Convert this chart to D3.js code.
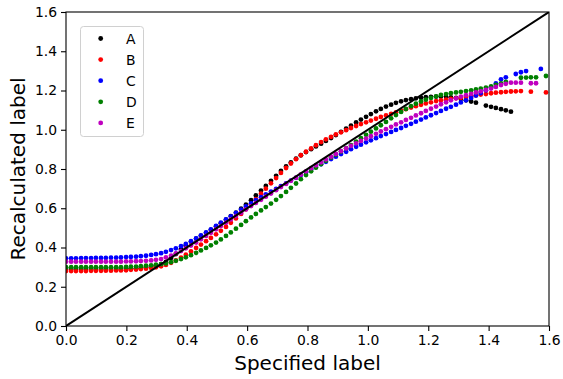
<!DOCTYPE html>
<html>
<head>
<meta charset="utf-8">
<script src="https://cdn.jsdelivr.net/npm/d3@7"></script>
<style>
  html, body { margin: 0; padding: 0; background: #fff; }
  svg { display: block; font-family: "DejaVu Sans", sans-serif; }
</style>
</head>
<body>
<div id="chart"></div>
<script>
// specified label (shared x for every series)
const xs = [
  0,0.017,0.033,0.050,0.066,0.083,0.099,0.116,0.132,0.149,
  0.166,0.182,0.199,0.215,0.232,0.248,0.265,0.282,0.298,0.315,
  0.331,0.348,0.364,0.381,0.397,0.414,0.431,0.447,0.464,0.480,
  0.497,0.513,0.530,0.546,0.563,0.580,0.596,0.613,0.629,0.646,
  0.662,0.679,0.696,0.712,0.729,0.745,0.762,0.778,0.795,0.812,
  0.828,0.845,0.861,0.878,0.894,0.911,0.928,0.944,0.961,0.977,
  0.994,1.010,1.027,1.043,1.060,1.077,1.093,1.110,1.126,1.143,
  1.159,1.176,1.192,1.209,1.226,1.242,1.259,1.275,1.292,1.308,
  1.325,1.342,1.358,1.374,1.391,1.408,1.424,1.441,1.457,1.474,
  1.490,1.507,1.524,1.540,1.557,1.573,1.590
];

// recalculated label, one array per series (null = no point)
const seriesA = [
  .290,.290,.290,.290,.290,.290,.290,.290,.290,.290,
  .290,.291,.292,.293,.294,.296,.299,.303,.308,.315,
  .326,.347,.367,.390,.411,.429,.445,.459,.475,.490,
  .507,.524,.542,.560,.578,.598,.618,.641,.665,.690,
  .714,.740,.765,.790,.813,.834,.853,.870,.886,.901,
  .915,.929,.943,.958,.973,.989,1.005,1.021,1.037,1.052,
  1.066,1.080,1.094,1.106,1.118,1.128,1.137,1.145,1.151,1.156,
  1.160,1.163,1.166,1.168,1.169,1.169,1.168,1.165,1.162,1.157,
  1.150,1.144,1.138,null,1.123,1.117,1.111,1.105,1.099,1.092,
  null,null,null,null,null,null,null
];
const seriesB = [
  .280,.280,.280,.280,.280,.281,.281,.281,.282,.282,
  .283,.283,.284,.286,.288,.290,.292,.295,.299,.304,
  .311,.322,.334,.348,.363,.380,.398,.415,.432,.449,
  .467,.485,.505,.526,.548,.571,.595,.620,.647,.674,
  .700,.727,.754,.780,.805,.828,.850,.870,.888,.905,
  .921,.937,.951,.964,.976,.987,.998,1.009,1.019,1.029,
  1.038,1.047,1.056,1.065,1.073,1.081,1.089,1.097,1.105,1.113,
  1.120,1.127,1.134,1.140,1.146,1.150,1.154,1.157,1.160,1.163,
  1.167,1.171,1.175,1.179,1.182,1.186,1.189,1.191,1.193,1.195,
  1.196,1.197,null,1.194,null,null,1.190
];
const seriesC = [
  .345,.345,.345,.346,.346,.346,.347,.347,.347,.348,
  .348,.349,.351,.352,.353,.356,.358,.362,.366,.371,
  .378,.387,.396,.407,.418,.432,.446,.462,.477,.492,
  .510,.526,.543,.559,.576,.593,.609,.625,.641,.656,
  .670,.685,.699,.713,.727,.741,.755,.769,.783,.797,
  .810,.824,.837,.851,.863,.876,.888,.901,.913,.924,
  .936,.946,.957,.968,.978,.989,.999,1.009,1.020,1.030,
  1.041,1.052,1.063,1.074,1.085,1.096,1.107,1.117,1.128,1.139,
  1.150,1.162,1.174,1.187,1.201,1.217,1.236,1.257,1.267,null,
  1.284,1.293,1.299,null,null,1.310,null
];
const seriesD = [
  .300,.300,.300,.300,.300,.300,.300,.300,.300,.300,
  .300,.300,.301,.302,.303,.305,.307,.309,.312,.315,
  .319,.325,.332,.341,.350,.361,.373,.385,.398,.411,
  .425,.441,.459,.477,.496,.515,.534,.553,.571,.589,
  .606,.624,.643,.662,.683,.704,.726,.748,.769,.788,
  .807,.825,.842,.858,.873,.889,.906,.922,.940,.957,
  .974,.990,1.007,1.023,1.040,1.058,1.075,1.091,1.106,1.120,
  1.133,1.144,1.153,1.162,1.170,1.177,1.182,1.186,1.190,1.193,
  1.197,1.201,1.205,1.210,1.215,1.221,1.228,1.236,1.244,null,
  null,1.265,1.266,1.267,1.267,null,1.274
];
const seriesE = [
  .328,.328,.328,.328,.328,.328,.328,.328,.328,.328,
  .328,.328,.329,.329,.330,.331,.332,.334,.337,.341,
  .350,.359,.370,.382,.396,.410,.425,.442,.459,.475,
  .493,.509,.526,.543,.560,.577,.594,.611,.627,.643,
  .659,.675,.692,.708,.724,.740,.756,.772,.788,.804,
  .819,.834,.849,.863,.877,.891,.905,.918,.931,.943,
  .955,.967,.979,.991,1.003,1.015,1.027,1.038,1.050,1.061,
  1.073,1.084,1.096,1.107,1.118,1.130,1.140,1.150,1.160,1.169,
  1.176,1.183,1.190,1.196,1.203,1.210,1.218,1.228,1.234,1.240,
  1.240,1.240,null,1.237,1.237,null,null
];

const seriesNames = ["A", "B", "C", "D", "E"];
const seriesColors = ["#000000", "#ff0000", "#0000ff", "#008000", "#bf00bf"];
const seriesValues = [seriesA, seriesB, seriesC, seriesD, seriesE];

const xTicks = [0, 0.2, 0.4, 0.6, 0.8, 1.0, 1.2, 1.4, 1.6];
const yTicks = [0, 0.2, 0.4, 0.6, 0.8, 1.0, 1.2, 1.4, 1.6];
const xTitle = "Specified label";
const yTitle = "Recalculated label";

// 尺寸
const width = 563;
const height = 379;
const margin = { top: 12, right: 14, bottom: 53, left: 66 };

const svg = d3.select("#chart")
  .append("svg")
  .attr("width", width)
  .attr("height", height);

const x = d3.scaleLinear()
  .domain([0, 1.6])
  .range([margin.left, width - margin.right]);

const y = d3.scaleLinear()
  .domain([0, 1.6])
  .range([height - margin.bottom, margin.top]);

// clip to the axes box
svg.append("defs").append("clipPath")
  .attr("id", "plot-clip")
  .append("rect")
  .attr("x", margin.left)
  .attr("y", margin.top)
  .attr("width", width - margin.left - margin.right)
  .attr("height", height - margin.top - margin.bottom);

const plot = svg.append("g").attr("clip-path", "url(#plot-clip)");

// 点
seriesValues.forEach((vals, k) => {
  const pts = xs.map((xv, i) => ({ x: xv, y: vals[i] })).filter(d => d.y !== null);
  plot.append("g")
    .selectAll("circle")
    .data(pts)
    .enter()
    .append("circle")
    .attr("cx", d => x(d.x))
    .attr("cy", d => y(d.y))
    .attr("r", 2.4)
    .attr("fill", seriesColors[k]);
});

// y = x reference line
plot.append("line")
  .attr("x1", x(0)).attr("y1", y(0))
  .attr("x2", x(1.6)).attr("y2", y(1.6))
  .attr("stroke", "#000")
  .attr("stroke-width", 2);

// 坐标轴
const xAxis = svg.append("g")
  .attr("transform", `translate(0, ${height - margin.bottom})`)
  .call(d3.axisBottom(x).tickValues(xTicks).tickFormat(d3.format(".1f")).tickSize(5).tickPadding(4));
const yAxis = svg.append("g")
  .attr("transform", `translate(${margin.left}, 0)`)
  .call(d3.axisLeft(y).tickValues(yTicks).tickFormat(d3.format(".1f")).tickSize(5).tickPadding(4));

[xAxis, yAxis].forEach(g => {
  g.select(".domain").remove();
  g.selectAll("line").attr("stroke", "#000").attr("stroke-width", 1.1);
  g.selectAll("text")
    .attr("fill", "#000")
    .style("font-family", "DejaVu Sans, sans-serif")
    .style("font-size", "13.9px");
});

// frame
svg.append("rect")
  .attr("x", margin.left)
  .attr("y", margin.top)
  .attr("width", width - margin.left - margin.right)
  .attr("height", height - margin.top - margin.bottom)
  .attr("fill", "none")
  .attr("stroke", "#000")
  .attr("stroke-width", 1.1);

// axis titles
svg.append("text")
  .attr("x", (margin.left + width - margin.right) / 2)
  .attr("y", 370)
  .attr("text-anchor", "middle")
  .style("font-size", "20px")
  .text(xTitle);

svg.append("text")
  .attr("transform", `translate(25, ${(margin.top + height - margin.bottom) / 2}) rotate(-90)`)
  .attr("text-anchor", "middle")
  .style("font-size", "20px")
  .text(yTitle);

// legend
const legend = svg.append("g");
legend.append("rect")
  .attr("x", 80.5)
  .attr("y", 26.5)
  .attr("width", 63)
  .attr("height", 110)
  .attr("rx", 3)
  .attr("fill", "#fff")
  .attr("fill-opacity", 0.8)
  .attr("stroke", "#d0d0d0")
  .attr("stroke-width", 1);

seriesNames.forEach((name, k) => {
  const ly = 38.5 + k * 21.1;
  legend.append("circle")
    .attr("cx", 100.7)
    .attr("cy", ly)
    .attr("r", 2.4)
    .attr("fill", seriesColors[k]);
  legend.append("text")
    .attr("x", 126)
    .attr("y", ly + 5)
    .style("font-size", "13.9px")
    .text(name);
});
</script>
</body>
</html>
